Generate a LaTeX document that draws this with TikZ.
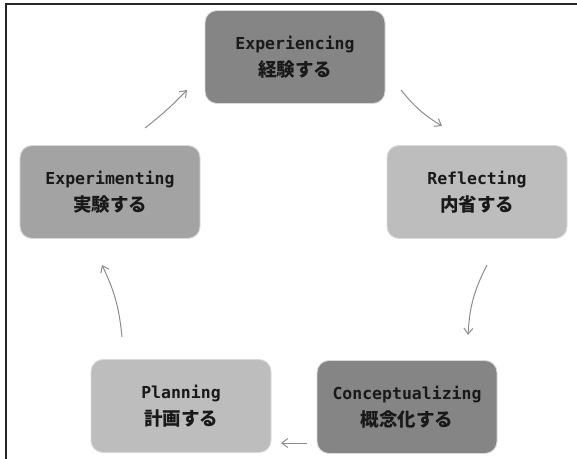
\documentclass[tikz,border=0pt]{standalone}
\usepackage{fontspec}
\newfontfamily\latinfont{DejaVu Sans Mono}
\newfontfamily\jpfont{Noto Sans CJK JP}
\usetikzlibrary{arrows.meta}

\definecolor{stagedark}{gray}{0.52}
\definecolor{stagemid}{gray}{0.64}
\definecolor{stagelight}{gray}{0.74}
\definecolor{flowgray}{gray}{0.55}

% one stage of the cycle: English name over Japanese name
\newcommand\stagelabel[2]{%
  {\latinfont\bfseries #1}\\%
  {\jpfont\bfseries\fontsize{18.5bp}{27bp}\selectfont #2}}

\tikzset{
  stage/.style={rounded corners=12bp, minimum width=180bp, minimum height=93bp,
    draw=gray!30, line width=0.9bp, align=center, inner sep=0pt, text=black!90,
    font={\fontsize{16.5bp}{27bp}\selectfont}},
  flow/.style={draw=flowgray, line width=1bp,
    -{Straight Barb[length=6bp,width=9bp,line width=1bp]}},
  frameline/.style={draw=black!85, line width=1.6bp}
}

\begin{document}
\begin{tikzpicture}[x=1bp,y=-1bp]
  \useasboundingbox (0,0) rectangle (577,459);

  % outer frame (left and top edges)
  \coordinate (ftl) at (6,4);
  \coordinate (ftr) at (577,4);
  \coordinate (fbl) at (6,459);
  \draw[frameline] (fbl) -- (ftl) -- (ftr);

  % the five stages
  \node[stage, fill=stagedark]  (exp)  at (295,57)  {\stagelabel{Experiencing}{経験する}};
  \node[stage, fill=stagelight] (refl) at (477,192) {\stagelabel{Reflecting}{内省する}};
  \node[stage, fill=stagedark]  (conc) at (407,407) {\stagelabel{Conceptualizing}{概念化する}};
  \node[stage, fill=stagelight] (plan) at (181,406) {\stagelabel{Planning}{計画する}};
  \node[stage, fill=stagemid]   (expm) at (110,192) {\stagelabel{Experimenting}{実験する}};

  % arrow end points between the stages
  \coordinate (a1s) at (401,90);  \coordinate (a1e) at (442,126);
  \coordinate (a2s) at (487,265); \coordinate (a2e) at (468,335);
  \coordinate (a3s) at (307,443); \coordinate (a3e) at (281,443);
  \coordinate (a4s) at (122,337); \coordinate (a4e) at (102,265);
  \coordinate (a5s) at (145,128); \coordinate (a5e) at (187,90);

  % clockwise flow of the cycle
  \draw[flow] (a1s) to[bend right=10] (a1e);
  \draw[flow] (a2s) to[bend right=12] (a2e);
  \draw[flow] (a3s) -- (a3e);
  \draw[flow] (a4s) to[bend right=10] (a4e);
  \draw[flow] (a5s) to[bend right=4] (a5e);
\end{tikzpicture}
\end{document}
